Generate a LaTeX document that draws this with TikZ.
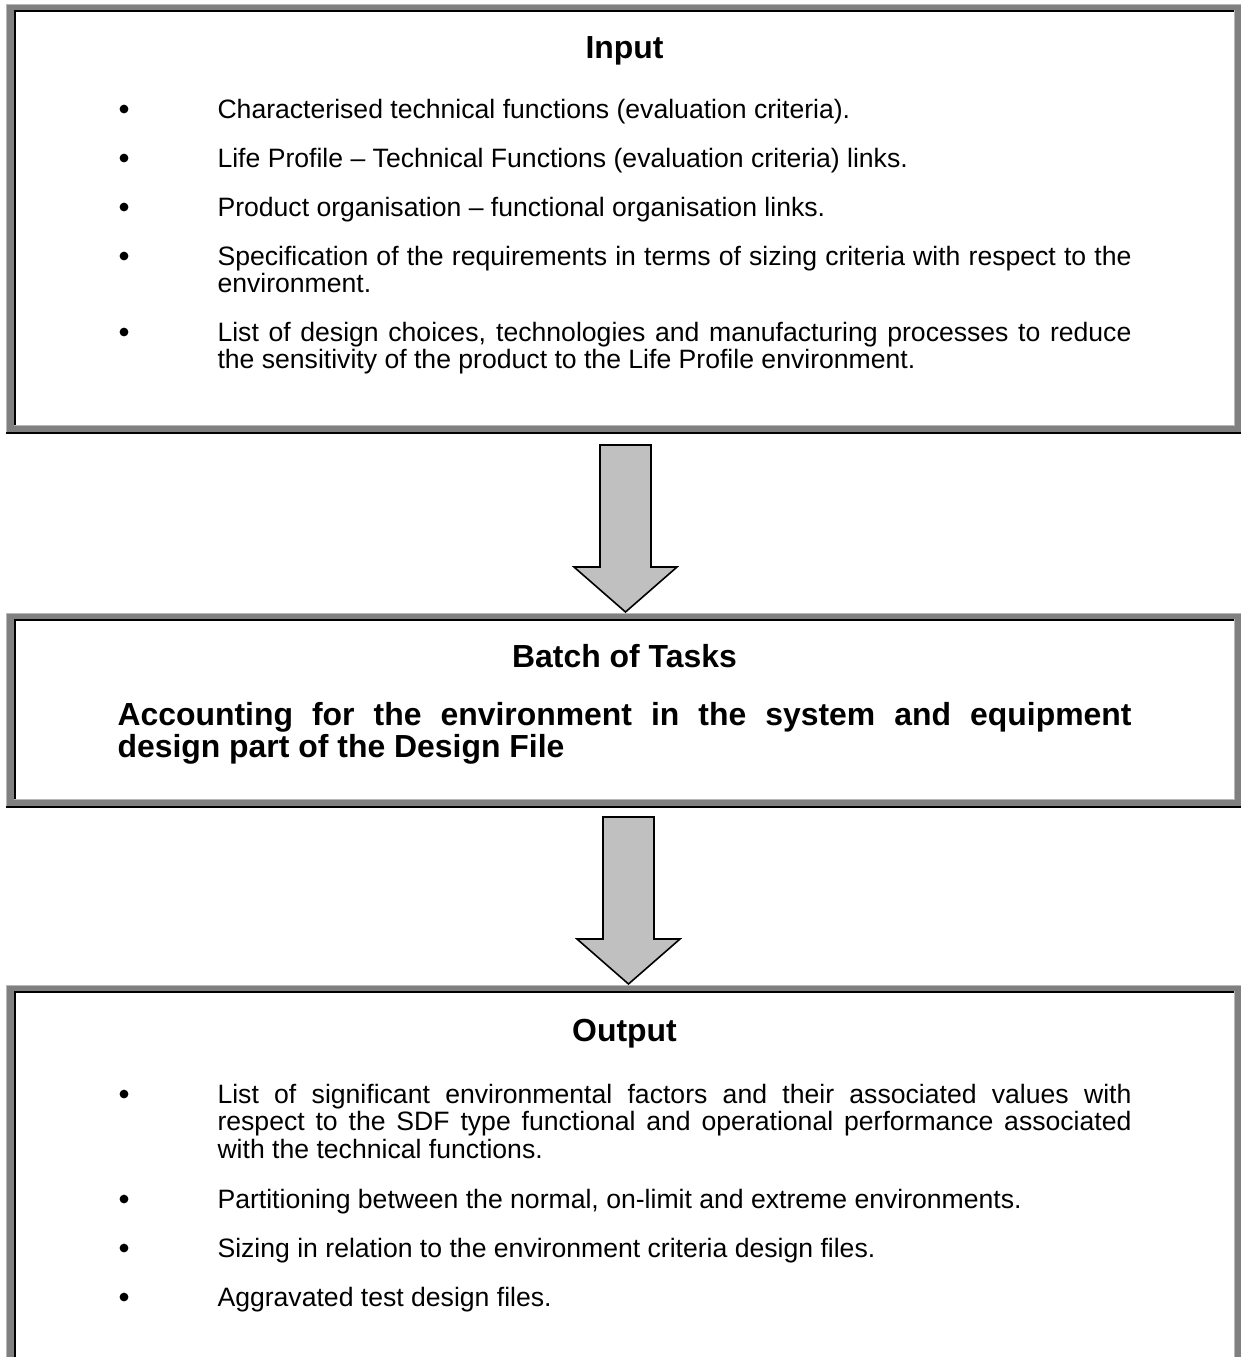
\documentclass[tikz,border=0pt]{standalone}
\usepackage{fontspec}
\setmainfont{Liberation Sans}
\definecolor{band}{HTML}{808080}
\definecolor{hilite}{HTML}{B8B8B8}
\definecolor{arrowfill}{HTML}{C0C0C0}
\hyphenpenalty=10000
\exhyphenpenalty=10000
\tolerance=9999
\tikzset{
  bodytext/.style={anchor=base west, inner sep=0pt, text width=343.66pt, align=justify,
    font=\fontsize{10pt}{10.34pt}\selectfont},
  boldtext/.style={anchor=base west, inner sep=0pt, text width=381.26pt, align=justify,
    font=\fontsize{12pt}{12.03pt}\selectfont\bfseries},
  titletext/.style={anchor=base, inner sep=0pt, font=\fontsize{12pt}{12pt}\selectfont\bfseries},
  bul/.style={fill=black, circle, inner sep=0pt, minimum size=3.3pt},
  blockarrow/.style={fill=arrowfill, draw=black, line width=0.6pt, line join=miter}
}
% L T R B  (pixel coordinates, y downwards)
\newcommand\gbox[4]{%
  \fill[band] (#1,#2) rectangle (#3,#4);
  \fill[hilite] (#1,#2) rectangle (#3,#2+1);
  \fill[hilite] (#1,#2) rectangle (#1+1,#4-2);
  \fill[black] (#1,#4-2) rectangle (#3,#4);
  \fill[black] (#3-2,#2) rectangle (#3,#4);
  \fill[hilite] (#1+7.5,#2+6) rectangle (#3-8,#4-8);
  \fill[black] (#1+7.5,#2+6) rectangle (#3-9,#4-9);
  \fill[white] (#1+10,#2+8) rectangle (#3-9,#4-9);
}
\begin{document}
\begin{tikzpicture}[x=0.376pt, y=-0.376pt]
\useasboundingbox (0,0) rectangle (1241,1357);
\fill[white] (0,0) rectangle (1241,1357);

% ---------- Box 1 : Input ----------
\gbox{6}{4}{1243}{434}
\node[titletext] (intitle) at (624.5,58) {Input};
\node[bul] (ib1) at (124,109) {};
\node[bodytext] (in1) at (217,118) {Characterised technical functions (evaluation criteria).};
\node[bul] (ib2) at (124,158) {};
\node[bodytext] (in2) at (217,167) {Life Profile – Technical Functions (evaluation criteria) links.};
\node[bul] (ib3) at (124,207) {};
\node[bodytext] (in3) at (217,216) {Product organisation – functional organisation links.};
\node[bul] (ib4) at (124,256) {};
\node[bodytext] (in4) at (217,265) {Specification of the requirements in terms of sizing criteria with respect to the\linebreak environment.};
\node[bul] (ib5) at (124,332) {};
\node[bodytext] (in5) at (217,341) {List of design choices, technologies and manufacturing processes to reduce\linebreak the sensitivity of the product to the Life Profile environment.};

% ---------- Arrow 1 ----------
\coordinate (a1) at (625.5,445);
\draw[blockarrow] (a1) ++(-25.5,0) -- ++(51,0) -- ++(0,122) -- ++(26,0) -- ++(-51.5,45) -- ++(-51.5,-45) -- ++(26,0) -- cycle;

% ---------- Box 2 : Batch of Tasks ----------
\gbox{6}{613}{1243}{808}
\node[titletext] (battitle) at (624.5,667) {Batch of Tasks};
\node[boldtext] (batch) at (117,725) {Accounting for the environment in the system and equipment\linebreak design part of the Design File};

% ---------- Arrow 2 ----------
\coordinate (a2) at (628.5,817);
\draw[blockarrow] (a2) ++(-25.5,0) -- ++(51,0) -- ++(0,122) -- ++(26,0) -- ++(-51.5,45) -- ++(-51.5,-45) -- ++(26,0) -- cycle;

% ---------- Box 3 : Output ----------
\gbox{6}{985}{1243}{1375}
\node[titletext] (outtitle) at (624.5,1041) {Output};
\node[bul] (ob1) at (124,1094) {};
\node[bodytext] (out1) at (217,1103) {List of significant environmental factors and their associated values with\linebreak respect to the SDF type functional and operational performance associated\linebreak with the technical functions.};
\node[bul] (ob2) at (124,1199) {};
\node[bodytext] (out2) at (217,1208) {Partitioning between the normal, on-limit and extreme environments.};
\node[bul] (ob3) at (124,1248) {};
\node[bodytext] (out3) at (217,1257) {Sizing in relation to the environment criteria design files.};
\node[bul] (ob4) at (124,1297) {};
\node[bodytext] (out4) at (217,1306) {Aggravated test design files.};
\end{tikzpicture}
\end{document}
